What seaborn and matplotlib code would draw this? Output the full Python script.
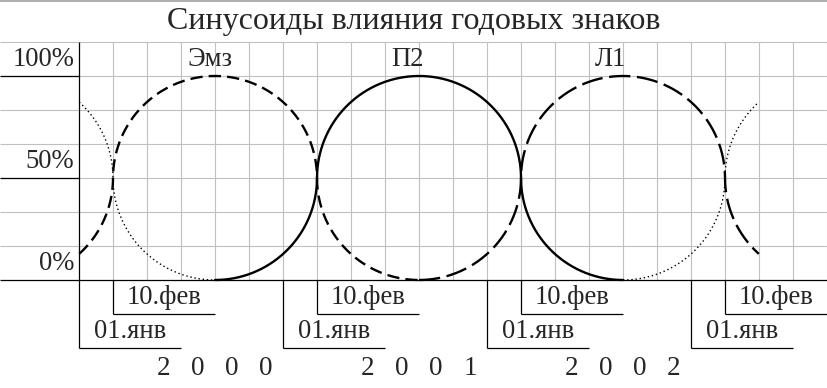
import numpy as np
import pandas as pd
import matplotlib
matplotlib.use("Agg")
import matplotlib.pyplot as plt
import matplotlib.font_manager as fm
import seaborn as sns

# ---------------- data ----------------
title = "Синусоиды влияния годовых знаков"
# x in grid cells (6 cells = 1 year, x=0 -> 01.янв 2000), y in percent
years = ["2000", "2001", "2002"]
year_starts = [0, 6, 12, 18]          # 01.янв tick positions
feb_ticks = [1, 7, 13, 19]            # 10.фев tick positions
jan_label = "01.янв"
feb_label = "10.фев"
y_ticks = [0, 50, 100]
y_tick_labels = ["0%", "50%", "100%"]

# key points of each wave: extremes and 50 % crossings
emz_x = [-2, 1, 4, 7, 10]
emz_y = [0, 50, 100, 50, 0]
p2_x = [4, 7, 10, 13, 16]
p2_y = [0, 50, 100, 50, 0]
l1_x = [10, 13, 16, 19, 22]
l1_y = [0, 50, 100, 50, 0]
prev_x = [-2, 1, 4]
prev_y = [100, 50, 0]
next_x = [16, 19, 22]
next_y = [0, 50, 100]

series = [
    ("Эмз", emz_x, emz_y, (0, 10)),
    ("П2", p2_x, p2_y, (4, 16)),
    ("Л1", l1_x, l1_y, (10, 20)),
    ("", prev_x, prev_y, (0, 4)),
    ("", next_x, next_y, (16, 20)),
]
peak_labels = {"Эмз": 4, "П2": 10, "Л1": 16}

# ---------------- style ----------------
sns.set_style("white")
plt.rcParams["font.family"] = ["Liberation Serif", "DejaVu Serif"]
serif_path = fm.findfont(fm.FontProperties(family="Liberation Serif"))


def fp(size):
    return fm.FontProperties(fname=serif_path, size=size)


LAB = 19.2
W, H = 827, 388
fig = plt.figure(figsize=(W / 100, H / 100), dpi=100)
ax = fig.add_axes([0, 0, 1, 1])
cell = 34.0
x0_px, y0_px = 79.0, 280.0
ax.set_xlim(-x0_px / cell, (W - x0_px) / cell)
ax.set_ylim(-(H - y0_px) / 2.04, y0_px / 2.04)
ax.axis("off")

xl, xr = ax.get_xlim()
grid_c = "#c0c0c0"
ystep = 100 / 6
for k in range(1, 8):
    ax.hlines(k * ystep, xl, xr, color=grid_c, lw=0.8, zorder=1)
for k in range(1, 23):
    ax.vlines(k, 0, 7 * ystep, color=grid_c, lw=0.8, zorder=1)
ax.hlines(ax.get_ylim()[1] - 0.4, xl, xr, color="#a0a0a0", lw=1.2, zorder=1)

ax.hlines(0, xl, xr, color="black", lw=0.9, zorder=2)
for yv in (50, 100):
    ax.hlines(yv, xl, 0, color="black", lw=0.9, zorder=2)
ax.vlines(0, 0, 7 * ystep, color="black", lw=0.9, zorder=2)

for yv, lab in zip(y_ticks, y_tick_labels):
    ax.text(-0.14, yv + ystep / 2, lab, ha="right", va="center", fontproperties=fp(LAB))

for xs in year_starts:
    ax.vlines(xs, -2 * ystep, 0, color="black", lw=0.9, zorder=2)
    ax.hlines(-2 * ystep, xs, xs + 3, color="black", lw=0.9, zorder=2)
    ax.text(xs + 1.5, -1.5 * ystep, jan_label, ha="center", va="center", fontproperties=fp(LAB))
for xf in feb_ticks:
    ax.vlines(xf, -ystep, 0, color="black", lw=0.9, zorder=2)
    ax.hlines(-ystep, xf, xf + 3, color="black", lw=0.9, zorder=2)
    ax.text(xf + 1.5, -0.5 * ystep, feb_label, ha="center", va="center", fontproperties=fp(LAB))

for ys, yr in zip(year_starts, years):
    for i, ch in enumerate(yr):
        ax.text(ys + 2.5 + i, -43.5, ch, ha="center", va="center", fontproperties=fp(19.5))


def wave(kx, ky, span, n=400):
    xs, ys = [], []
    for (xa, ya), (xb, yb) in zip(zip(kx, ky), zip(kx[1:], ky[1:])):
        if ya == 50:
            xc, yext, xcr = xb, yb, xa
            th = np.linspace(0, np.pi / 2, n)
        else:
            xc, yext, xcr = xa, ya, xb
            th = np.linspace(np.pi / 2, 0, n)
        xs.append(xc + (xcr - xc) * np.cos(th))
        ys.append(50 + (yext - 50) * np.sin(th))
    xs = np.concatenate(xs)
    ys = np.concatenate(ys)
    m = (xs >= span[0]) & (xs <= span[1])
    return xs[m], ys[m]


styles = {
    "Эмз": dict(color="black", lw=1.7, linestyle=(0, (5.2, 2.6))),
    "П2": dict(color="black", lw=1.7, linestyle="-"),
    "Л1": dict(color="black", lw=1.7, linestyle=(0, (9.0, 2.8))),
    "": dict(color="black", lw=1.0, linestyle=(0, (1.0, 2.0))),
}

for name, kx, ky, span in series:
    xs, ys = wave(kx, ky, span)
    df = pd.DataFrame({"x": xs, "y": ys})
    sns.lineplot(data=df, x="x", y="y", ax=ax, estimator=None, sort=False,
                 legend=False, zorder=3, **styles[name])
    if name:
        ax.text(peak_labels[name] - 0.82, 100 + ystep / 2, name,
                ha="left", va="center", fontproperties=fp(LAB))

ax.set_xlim(xl, xr)
ax.set_ylim(-(H - y0_px) / 2.04, y0_px / 2.04)
ax.axis("off")

fig.text(0.5, 1 - 22 / H, title, ha="center", va="center", fontproperties=fp(23))

fig.savefig("out.png", dpi=100)
